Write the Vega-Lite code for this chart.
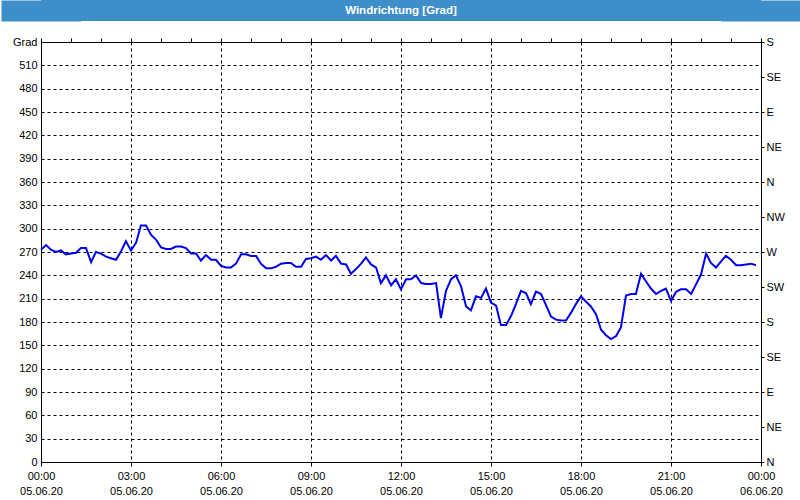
{
  "$schema": "https://vega.github.io/schema/vega-lite/v6.json",
  "usermeta": {"embedOptions": {"actions": false}},
  "background": "white",
  "padding": 0,
  "spacing": 14,
  "config": {"view": {"stroke": null}, "font": "Liberation Sans", "axis": {"labelOverlap": false}},
  "datasets": {
    "wind": [
      {"h":0.00,"v":273},{"h":0.17,"v":279},{"h":0.33,"v":273},{"h":0.50,"v":270},{"h":0.67,"v":272},{"h":0.83,"v":267},
      {"h":1.00,"v":268},{"h":1.17,"v":269},{"h":1.33,"v":275},{"h":1.50,"v":275},{"h":1.67,"v":257},{"h":1.83,"v":270},
      {"h":2.00,"v":268},{"h":2.17,"v":264},{"h":2.33,"v":262},{"h":2.50,"v":260},{"h":2.67,"v":271},{"h":2.83,"v":284},
      {"h":3.00,"v":272},{"h":3.17,"v":282},{"h":3.33,"v":304},{"h":3.50,"v":304},{"h":3.67,"v":292},{"h":3.83,"v":286},
      {"h":4.00,"v":276},{"h":4.17,"v":274},{"h":4.33,"v":274},{"h":4.50,"v":277},{"h":4.67,"v":277},{"h":4.83,"v":275},
      {"h":5.00,"v":268},{"h":5.17,"v":268},{"h":5.33,"v":259},{"h":5.50,"v":266},{"h":5.67,"v":260},{"h":5.83,"v":260},
      {"h":6.00,"v":252},{"h":6.17,"v":250},{"h":6.33,"v":250},{"h":6.50,"v":255},{"h":6.67,"v":267},{"h":6.83,"v":267},
      {"h":7.00,"v":265},{"h":7.17,"v":265},{"h":7.33,"v":255},{"h":7.50,"v":249},{"h":7.67,"v":249},{"h":7.83,"v":251},
      {"h":8.00,"v":255},{"h":8.17,"v":256},{"h":8.33,"v":256},{"h":8.50,"v":251},{"h":8.67,"v":251},{"h":8.83,"v":261},
      {"h":9.00,"v":262},{"h":9.17,"v":264},{"h":9.33,"v":260},{"h":9.50,"v":266},{"h":9.67,"v":259},{"h":9.83,"v":265},
      {"h":10.00,"v":255},{"h":10.17,"v":254},{"h":10.33,"v":242},{"h":10.50,"v":248},{"h":10.67,"v":255},{"h":10.83,"v":263},
      {"h":11.00,"v":254},{"h":11.17,"v":250},{"h":11.33,"v":230},{"h":11.50,"v":240},{"h":11.67,"v":227},{"h":11.83,"v":235},
      {"h":12.00,"v":222},{"h":12.17,"v":235},{"h":12.33,"v":235},{"h":12.50,"v":240},{"h":12.67,"v":230},{"h":12.83,"v":229},
      {"h":13.00,"v":229},{"h":13.17,"v":230},{"h":13.33,"v":185},{"h":13.50,"v":220},{"h":13.67,"v":235},{"h":13.83,"v":240},
      {"h":14.00,"v":226},{"h":14.17,"v":200},{"h":14.33,"v":195},{"h":14.50,"v":213},{"h":14.67,"v":211},{"h":14.83,"v":223},
      {"h":15.00,"v":205},{"h":15.17,"v":201},{"h":15.33,"v":176},{"h":15.50,"v":176},{"h":15.67,"v":188},{"h":15.83,"v":203},
      {"h":16.00,"v":220},{"h":16.17,"v":217},{"h":16.33,"v":203},{"h":16.50,"v":219},{"h":16.67,"v":216},{"h":16.83,"v":202},
      {"h":17.00,"v":187},{"h":17.17,"v":183},{"h":17.33,"v":182},{"h":17.50,"v":182},{"h":17.67,"v":192},{"h":17.83,"v":203},
      {"h":18.00,"v":213},{"h":18.17,"v":206},{"h":18.33,"v":200},{"h":18.50,"v":190},{"h":18.67,"v":170},{"h":18.83,"v":163},
      {"h":19.00,"v":158},{"h":19.17,"v":162},{"h":19.33,"v":173},{"h":19.50,"v":214},{"h":19.67,"v":216},{"h":19.83,"v":216},
      {"h":20.00,"v":242},{"h":20.17,"v":232},{"h":20.33,"v":223},{"h":20.50,"v":216},{"h":20.67,"v":220},{"h":20.83,"v":223},
      {"h":21.00,"v":207},{"h":21.17,"v":219},{"h":21.33,"v":222},{"h":21.50,"v":222},{"h":21.67,"v":216},{"h":21.83,"v":228},
      {"h":22.00,"v":241},{"h":22.17,"v":268},{"h":22.33,"v":256},{"h":22.50,"v":250},{"h":22.67,"v":258},{"h":22.83,"v":265},
      {"h":23.00,"v":260},{"h":23.17,"v":253},{"h":23.33,"v":253},{"h":23.50,"v":254},{"h":23.67,"v":255},{"h":23.83,"v":253}
    ]
  },
  "vconcat": [
    {
      "width": 720,
      "height": 21,
      "view": {"fill": "#3d8ec9", "stroke": null},
      "data": {"values": [{"t": "Windrichtung [Grad]", "p": 0}]},
      "resolve": {"axis": {"y": "independent"}},
      "layer": [
        {
          "mark": {"type": "text", "color": "white", "font": "Liberation Sans", "fontWeight": "bold", "fontSize": 11.5, "baseline": "middle", "align": "center"},
          "encoding": {
            "text": {"field": "t"},
            "y": {"field": "p", "type": "quantitative", "title": null, "scale": {"domain": [-1, 1]},
              "axis": {"orient": "left", "labels": false, "ticks": false, "grid": false, "domainColor": "#3d8ec9", "domainWidth": 80, "minExtent": 0, "maxExtent": 0}}
          }
        },
        {
          "mark": {"type": "text", "opacity": 0},
          "encoding": {
            "text": {"field": "t"},
            "y": {"field": "p", "type": "quantitative", "title": null, "scale": {"domain": [-1, 1]},
              "axis": {"orient": "right", "labels": false, "ticks": false, "grid": false, "domainColor": "#3d8ec9", "domainWidth": 80, "minExtent": 0, "maxExtent": 0}}
          }
        }
      ]
    },
    {
      "width": 720,
      "height": 420,
      "view": {"stroke": "black", "strokeWidth": 1, "fill": "white"},
      "resolve": {"axis": {"y": "independent", "x": "independent"}},
      "layer": [
        {
          "data": {"name": "wind"},
          "mark": {"type": "line", "color": "#0000ee", "strokeWidth": 2},
          "encoding": {
            "x": {
              "field": "h", "type": "quantitative", "title": null,
              "scale": {"domain": [0, 24], "nice": false, "zero": false},
              "axis": {
                "values": [0,3,6,9,12,15,18,21,24],
                "grid": true, "gridColor": "black", "gridDash": [3, 3], "gridOpacity": 1, "gridWidth": 1,
                "tickSize": 4, "tickColor": "black", "domainColor": "black",
                "labelExpr": "[(datum.value == 24 ? '00' : (datum.value < 10 ? '0' + datum.value : '' + datum.value)) + ':00', datum.value == 24 ? '06.06.20' : '05.06.20']",
                "labelOverlap": false, "labelFlush": false, "labelBound": false,
                "labelPadding": 4, "labelLineHeight": 15, "labelBaseline": "top",
                "labelColor": "black", "labelFontSize": 11, "labelFont": "Liberation Sans"
              }
            },
            "y": {
              "field": "v", "type": "quantitative", "title": null,
              "scale": {"domain": [0, 540], "nice": false, "zero": true},
              "axis": {
                "values": [0,30,60,90,120,150,180,210,240,270,300,330,360,390,420,450,480,510,540],
                "labelExpr": "datum.value == 540 ? 'Grad' : datum.label",
                "ticks": false, "labelPadding": 4, "minExtent": 40, "maxExtent": 40,
                "grid": true, "gridColor": "black", "gridDash": [3, 3], "gridOpacity": 1, "gridWidth": 1,
                "domainColor": "black", "labelColor": "black", "labelFontSize": 11, "labelFont": "Liberation Sans"
              }
            }
          }
        },
        {
          "data": {"name": "wind"},
          "mark": {"type": "line", "opacity": 0},
          "encoding": {
            "x": {
              "field": "h", "type": "quantitative", "title": null,
              "scale": {"domain": [0, 24], "nice": false, "zero": false},
              "axis": {"values": [0,1,2,3,4,5,6,7,8,9,10,11,12,13,14,15,16,17,18,19,20,21,22,23,24], "labels": false, "grid": false, "domain": false, "tickSize": 4, "tickColor": "black", "offset": 0}
            },
            "y": {
              "field": "v", "type": "quantitative", "title": null,
              "scale": {"domain": [0, 540], "nice": false, "zero": true},
              "axis": {
                "orient": "right",
                "values": [0,45,90,135,180,225,270,315,360,405,450,495,540],
                "labelExpr": "['N','NE','E','SE','S','SW','W','NW','N','NE','E','SE','S'][round(datum.value/45)]",
                "grid": false, "tickSize": 3, "tickColor": "black", "labelPadding": 2, "minExtent": 40, "maxExtent": 40,
                "domainColor": "black", "labelColor": "black", "labelFontSize": 11, "labelFont": "Liberation Sans"
              }
            }
          }
        }
      ]
    }
  ]
}
